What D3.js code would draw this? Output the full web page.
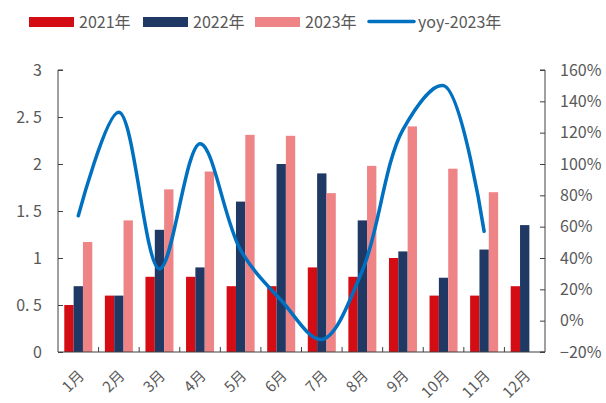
<!DOCTYPE html>
<html><head><meta charset="utf-8">
<script src="https://cdn.jsdelivr.net/npm/d3@7"></script>
<style>body{margin:0;background:#fff}svg{display:block}</style>
</head><body>
<svg id="c" width="606" height="403"></svg>
<script>
const months = ["1月","2月","3月","4月","5月","6月","7月","8月","9月","10月","11月","12月"];
const s2021 = [0.5,0.6,0.8,0.8,0.7,0.7,0.9,0.8,1.0,0.6,0.6,0.7];
const s2022 = [0.7,0.6,1.3,0.9,1.6,2.0,1.9,1.4,1.07,0.79,1.09,1.35];
const s2023 = [1.17,1.4,1.73,1.92,2.31,2.30,1.69,1.98,2.40,1.95,1.70,null];
const yoy2023 = [67,133,33,113,45,13,-12,32,122,150,57,null];
const leftTicks = [0,0.5,1,1.5,2,2.5,3];
const rightTicks = [-20,0,20,40,60,80,100,120,140,160];
const seriesNames = ["2021年","2022年","2023年"];
const lineName = "yoy-2023年";

const colors = ["#D40C14","#203864","#EE8486"];
const lineColor = "#0070C0";
const textColor = "#595959";
const axisColor = "#404040";
const font = "'Noto Sans CJK SC', 'DejaVu Sans', sans-serif";

const svg = d3.select("#c");
const L = 58, R = 545, T = 70, B = 352;

const x = d3.scaleBand().domain(months).range([L, R]).paddingInner(0).paddingOuter(0);
const yL = d3.scaleLinear().domain([0,3]).range([B,T]);
const yR = d3.scaleLinear().domain([-20,160]).range([B,T]);
const bw = x.bandwidth()*0.23;
const xs = d3.scaleBand().domain([0,1,2]).range([0, bw*3]);

// bars
[s2021,s2022,s2023].forEach((s,i)=>{
  svg.append("g").selectAll("rect").data(months.map((m,j)=>({m,v:s[j]})).filter(d=>d.v!=null))
    .join("rect")
    .attr("x", d=> x(d.m) + x.bandwidth()/2 - bw*1.5 + xs(i))
    .attr("width", xs.bandwidth())
    .attr("y", d=> yL(d.v))
    .attr("height", d=> yL(0)-yL(d.v))
    .attr("fill", colors[i]);
});

// line
const pts = months.map((m,j)=>({m,v:yoy2023[j]})).filter(d=>d.v!=null);
svg.append("path").datum(pts)
  .attr("d", d3.line().x(d=>x(d.m)+x.bandwidth()/2).y(d=>yR(d.v)).curve(d3.curveCatmullRom.alpha(0.5)))
  .attr("fill","none").attr("stroke",lineColor).attr("stroke-width",3.5).attr("stroke-linecap","round");

// axes
const gl = svg.append("g").attr("transform",`translate(${L},0)`)
  .call(d3.axisRight(yL).tickValues(leftTicks).tickSize(5).tickFormat(""));
gl.selectAll("path,line").attr("stroke",axisColor);
gl.select(".domain").attr("d",`M5,${T}H0V${B}`);
svg.append("g").selectAll("text").data(leftTicks).join("text")
  .attr("x",42).attr("y",d=>yL(d)).attr("dy","0.35em").attr("text-anchor","end")
  .attr("fill",textColor).attr("font-family",font).attr("font-size",16)
  .text(d=>d3.format("")(d).replace(".",". "));

const gr = svg.append("g").attr("transform",`translate(${R},0)`)
  .call(d3.axisLeft(yR).tickValues(rightTicks).tickSize(5).tickFormat(""));
gr.selectAll("path,line").attr("stroke",axisColor);
gr.select(".domain").attr("d",`M-5,${T}H0V${B}H-5`);
svg.append("g").selectAll("text").data(rightTicks).join("text")
  .attr("x",560).attr("y",d=>yR(d)).attr("dy","0.35em").attr("text-anchor","start")
  .attr("fill",textColor).attr("font-family",font).attr("font-size",16)
  .text(d=>(d<0?"−":"")+Math.abs(d)+"%");

// bottom axis
const gb = svg.append("g").attr("transform",`translate(0,${B})`);
gb.append("line").attr("x1",L).attr("x2",R).attr("stroke",axisColor).attr("stroke-width",1.2);
gb.selectAll("line.t").data(months.slice(1)).join("line").attr("class","t")
  .attr("x1",d=>x(d)).attr("x2",d=>x(d)).attr("y1",0).attr("y2",-5).attr("stroke",axisColor);
gb.selectAll("text").data(months).join("text")
  .attr("transform",d=>`translate(${x(d)+x.bandwidth()/2+3},${21}) rotate(-45)`)
  .attr("text-anchor","end").attr("dy","0.35em")
  .attr("fill",textColor).attr("font-family",font).attr("font-size",15)
  .text(d=>d);

// legend
const lg = svg.append("g");
const lx = [29,143,255];
seriesNames.forEach((n,i)=>{
  lg.append("rect").attr("x",lx[i]).attr("y",17).attr("width",45).attr("height",10).attr("fill",colors[i]);
  lg.append("text").attr("x",lx[i]+50).attr("y",22).attr("dy","0.35em").attr("fill",textColor)
    .attr("font-family",font).attr("font-size",16).text(n);
});
lg.append("line").attr("x1",369).attr("x2",414).attr("y1",21.5).attr("y2",21.5)
  .attr("stroke",lineColor).attr("stroke-width",3.5).attr("stroke-linecap","round");
lg.append("text").attr("x",418).attr("y",22).attr("dy","0.35em").attr("fill",textColor)
  .attr("font-family",font).attr("font-size",16).text(lineName);
</script>
</body></html>
